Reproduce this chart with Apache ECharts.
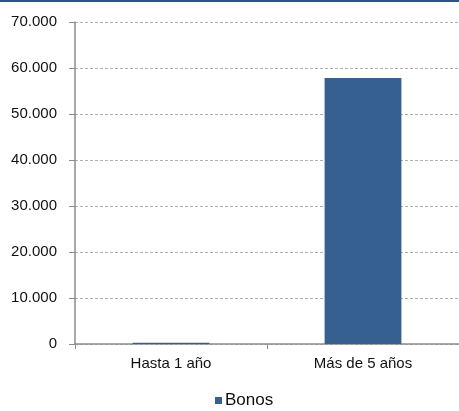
<!DOCTYPE html>
<html>
<head>
<meta charset="utf-8">
<script src="https://cdn.jsdelivr.net/npm/echarts@6/dist/echarts.min.js"></script>
<style>
html,body{margin:0;padding:0;background:#fff;}
#c{width:459px;height:411px;}
#topbar{position:absolute;left:0;top:0;width:459px;height:2px;background:#2c5489;}
</style>
</head>
<body>
<div id="topbar"></div>
<div id="c"></div>
<script>
var categories = ['Hasta 1 año', 'Más de 5 años'];
var seriesName = 'Bonos';
var bonos = [250, 57800];
var yMin = 0, yMax = 70000, yStep = 10000;

var FONT = '"Liberation Sans", Arial';
var chart = echarts.init(document.getElementById('c'));
function fmt(v){ return v === 0 ? '0' : (v/1000).toFixed(3); }
chart.setOption({
  animation: false,
  grid: { left: 75, right: 0, top: 22, bottom: 67, containLabel: false },
  legend: {
    data: [seriesName], top: 392, left: 215,
    itemWidth: 7, itemHeight: 7, itemGap: 3, padding: 0,
    icon: 'rect',
    textStyle: { fontFamily: FONT, fontSize: 17, color: '#111', padding: [0, 0, 0, -2] }
  },
  xAxis: {
    type: 'category', data: categories,
    axisLine: { lineStyle: { color: '#8c8c8c', width: 1.5 } },
    axisTick: { show: true, length: 5, lineStyle: { color: '#8c8c8c' } },
    axisLabel: { fontFamily: FONT, fontSize: 15, color: '#111', margin: 12 }
  },
  yAxis: {
    type: 'value', min: yMin, max: yMax, interval: yStep,
    axisLine: { show: true, lineStyle: { color: '#8c8c8c', width: 1.5 } },
    axisTick: { show: true, length: 6, lineStyle: { color: '#8c8c8c' } },
    axisLabel: { fontFamily: FONT, fontSize: 15, color: '#111', margin: 18, formatter: fmt },
    splitLine: { lineStyle: { color: '#b0b0b0', type: [3, 2] } }
  },
  series: [{
    name: seriesName, type: 'bar', data: bonos, barWidth: '40%',
    itemStyle: { color: '#35608f' }
  }]
});
</script>
</body>
</html>
